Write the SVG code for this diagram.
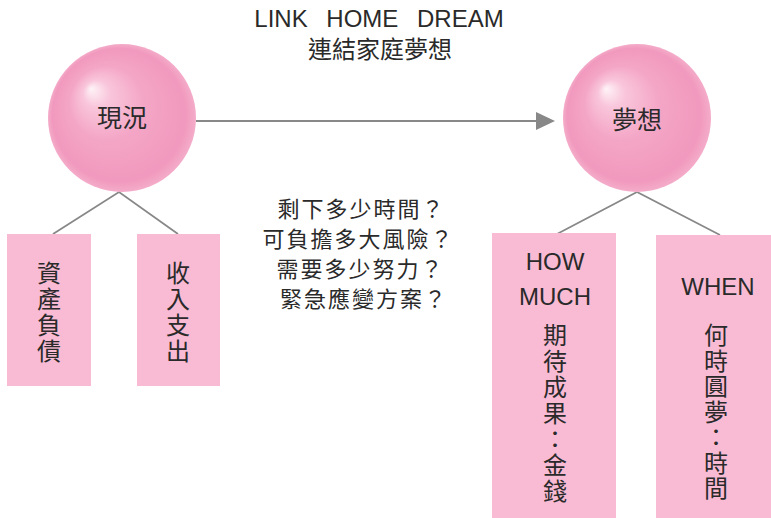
<svg xmlns="http://www.w3.org/2000/svg" width="771" height="518" viewBox="0 0 771 518">
<style>
.t{font-family:"Liberation Sans","Noto Sans CJK TC",sans-serif;fill:#2a2a2a;text-anchor:middle}
.cj{font-family:"Noto Sans CJK TC","Liberation Sans",sans-serif;fill:#2a2a2a;text-anchor:middle}
.box{fill:#f9bbd4}
.ln{stroke:#888;stroke-width:1.8;fill:none}
</style>
<defs>
<radialGradient id="sph" cx="0.5" cy="0.5" r="0.5" fx="0.29" fy="0.3">
<stop offset="0" stop-color="#fef3f7"/>
<stop offset="0.18" stop-color="#f9c6db"/>
<stop offset="0.5" stop-color="#f4a6c6"/>
<stop offset="0.9" stop-color="#f199be"/>
<stop offset="1" stop-color="#f4acc9"/>
</radialGradient>
</defs>
<g id="title">
<text class="t" x="379" y="27" font-size="24" word-spacing="12">LINK HOME DREAM</text>
<text class="cj" x="380" y="58" font-size="24">連結家庭夢想</text>
</g>
<g id="connectors">
<line class="ln" x1="196" y1="121" x2="536" y2="121"/>
<path d="M536,112 L555,121 L536,130 Z" fill="#888"/>
<polyline class="ln" points="53,234 119,192 178,234"/>
<polyline class="ln" points="557,234 637,192 720,235"/>
</g>
<g id="node-now">
<circle cx="122" cy="118" r="74" fill="url(#sph)"/>
<text class="cj" x="122" y="127" font-size="25">現況</text>
</g>
<g id="node-dream">
<circle cx="637" cy="118" r="74" fill="url(#sph)"/>
<text class="cj" x="637" y="129" font-size="25">夢想</text>
</g>
<g id="questions">
<text class="cj" font-size="22" letter-spacing="2">
<tspan x="365" y="217">剩下多少時間？</tspan>
<tspan x="362" y="247">可負擔多大風險？</tspan>
<tspan x="364" y="277">需要多少努力？</tspan>
<tspan x="364" y="307">緊急應變方案？</tspan>
</text>
</g>
<g id="box-assets">
<rect class="box" x="7" y="234" width="84" height="152"/>
<text class="cj" font-size="24">
<tspan x="49" y="282">資</tspan><tspan x="49" y="308">產</tspan><tspan x="49" y="334">負</tspan><tspan x="49" y="360">債</tspan>
</text>
</g>
<g id="box-income">
<rect class="box" x="137" y="234" width="83" height="152"/>
<text class="cj" font-size="24">
<tspan x="178" y="282">收</tspan><tspan x="178" y="308">入</tspan><tspan x="178" y="334">支</tspan><tspan x="178" y="360">出</tspan>
</text>
</g>
<g id="box-howmuch">
<rect class="box" x="492" y="233" width="124" height="290"/>
<text class="t" x="555" y="270" font-size="24">HOW</text>
<text class="t" x="555" y="305" font-size="24">MUCH</text>
<text class="cj" font-size="24">
<tspan x="555" y="344">期</tspan><tspan x="555" y="370">待</tspan><tspan x="555" y="396">成</tspan><tspan x="555" y="422">果</tspan><tspan x="555" y="448">：</tspan><tspan x="555" y="474">金</tspan><tspan x="555" y="500">錢</tspan>
</text>
</g>
<g id="box-when">
<rect class="box" x="656" y="235" width="130" height="290"/>
<text class="t" x="718" y="295" font-size="24">WHEN</text>
<text class="cj" font-size="24">
<tspan x="716" y="344">何</tspan><tspan x="716" y="369.5">時</tspan><tspan x="716" y="395">圓</tspan><tspan x="716" y="420.5">夢</tspan><tspan x="716" y="446">：</tspan><tspan x="716" y="471.5">時</tspan><tspan x="716" y="497">間</tspan>
</text>
</g>
</svg>
